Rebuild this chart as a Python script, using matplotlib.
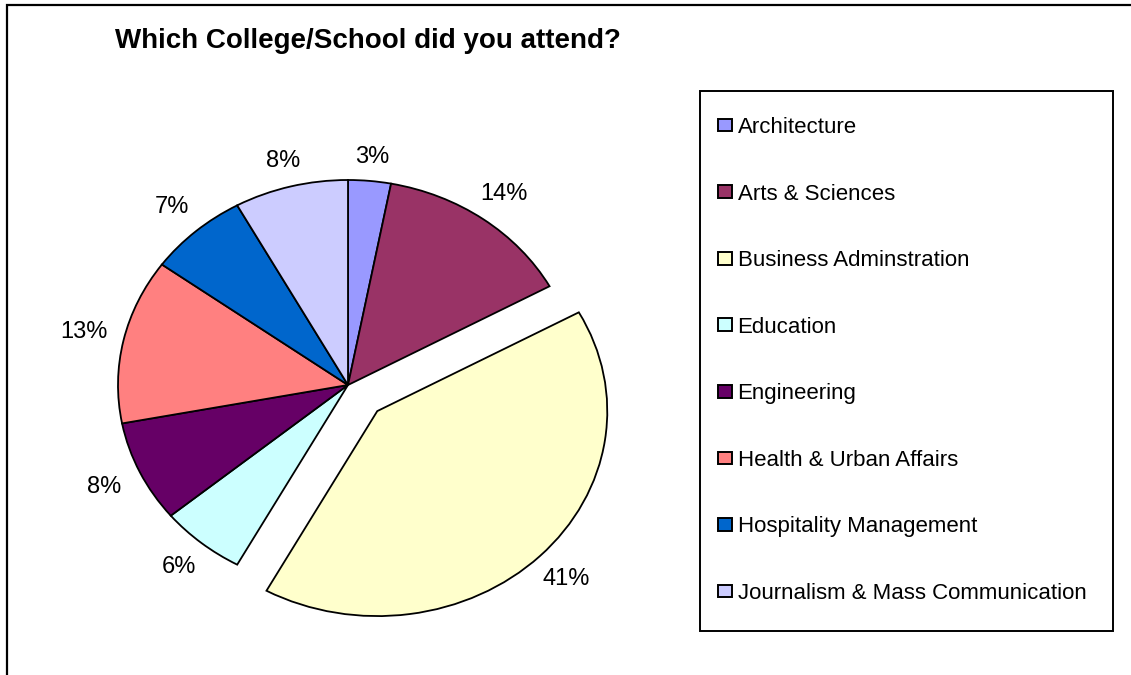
import matplotlib
matplotlib.use("Agg")
import numpy as np
import matplotlib.pyplot as plt
from matplotlib.patches import Patch, Rectangle

plt.rcParams['font.family'] = ['Liberation Sans', 'DejaVu Sans']

categories = ["Architecture", "Arts & Sciences", "Business Adminstration", "Education",
              "Engineering", "Health & Urban Affairs", "Hospitality Management",
              "Journalism & Mass Communication"]
values = [3, 14, 41, 6, 8, 13, 7, 8]
colors = ["#9999FF", "#993366", "#FFFFCC", "#CCFFFF", "#660066", "#FF8080", "#0066CC", "#CCCCFF"]
explode = [0, 0, 0.18, 0, 0, 0, 0, 0]
title = "Which College/School did you attend?"

W, H = 1131, 675
fig = plt.figure(figsize=(W / 100, H / 100), dpi=100)

# outer frame (left + top visible)
fig.add_artist(Rectangle((7 / W, -0.1), 1.2, (H - 5) / H + 0.1, transform=fig.transFigure,
                         fill=False, edgecolor='black', linewidth=1.6))

cx, cy, rx, ry, L = 348, 385, 230, 205, 1.4
ax = fig.add_axes([(cx - rx * L) / W, (H - cy - ry * L) / H, 2 * rx * L / W, 2 * ry * L / H])
wedges, texts, autotexts = ax.pie(values, colors=colors, explode=explode, startangle=90,
                                  counterclock=False, autopct='%1.0f%%', pctdistance=1.15,
                                  wedgeprops=dict(edgecolor='black', linewidth=1.3),
                                  textprops=dict(fontsize=17, color='black'))
# reposition labels outside, farther for horizontally placed ones
for w, t, e in zip(wedges, autotexts, explode):
    th = np.deg2rad((w.theta1 + w.theta2) / 2)
    r = 1.11 + 0.07 * abs(np.cos(th))
    t.set_position(((r + e) * np.cos(th), (r + e) * np.sin(th)))
    t.set_ha('center')
    t.set_va('center')
ax.set_aspect('auto')
ax.set_xlim(-L, L)
ax.set_ylim(-L, L)
ax.axis('off')

fig.text(368 / W, 1 - 41 / H, title, ha='center', va='center', fontsize=20, fontweight='bold')

# legend box
fig.add_artist(Rectangle((700 / W, 1 - 631 / H), 413 / W, 540 / H, transform=fig.transFigure,
                         fill=True, facecolor='white', edgecolor='black', linewidth=1.4))
handles = [Patch(facecolor=c, edgecolor='black', linewidth=1.4) for c in colors]
leg = fig.legend(handles, categories, loc='upper left',
                 bbox_to_anchor=(718 / W, 1 - 117 / H),
                 fontsize=16, frameon=False,
                 labelspacing=2.05, handlelength=0.63, handleheight=0.5, handletextpad=0.25,
                 borderpad=0, borderaxespad=0)

fig.savefig("out.png", dpi=100)
